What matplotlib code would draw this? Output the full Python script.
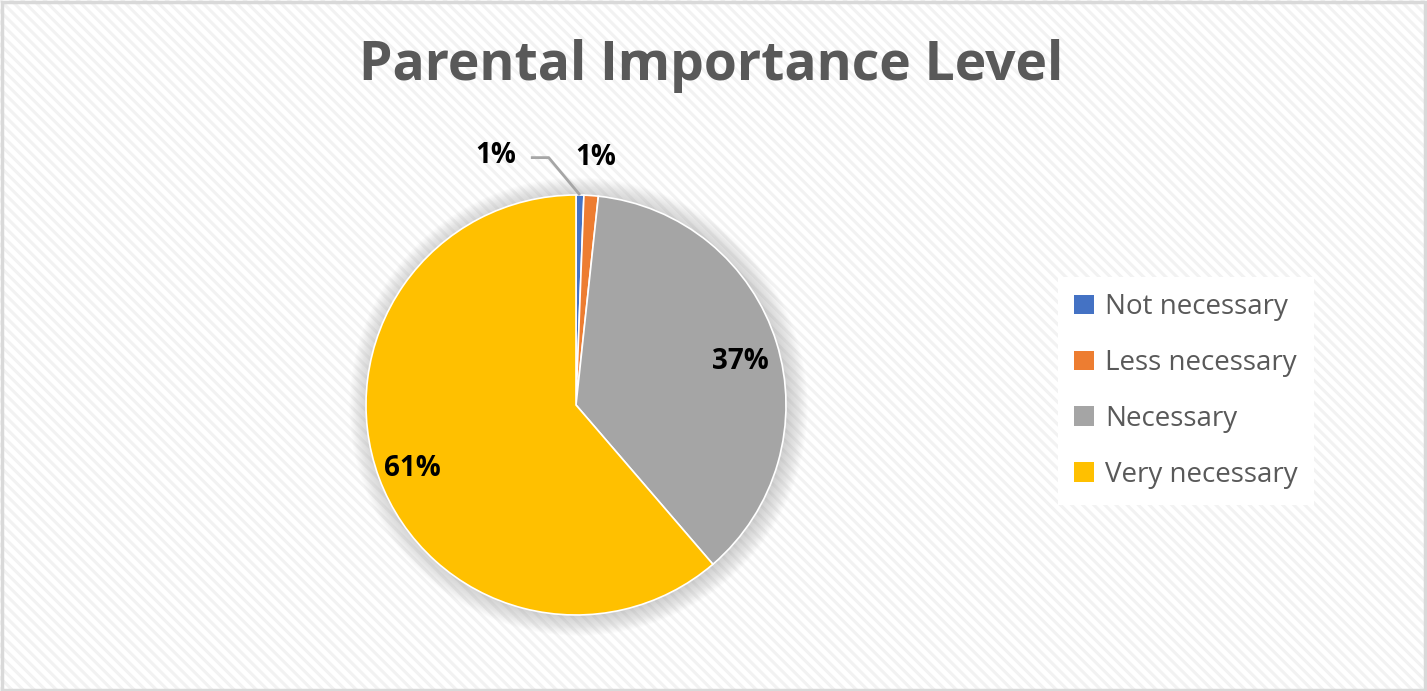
import matplotlib.pyplot as plt
import matplotlib.patches as mpatches
import numpy as np

plt.rcParams['font.family'] = ['Open Sans', 'DejaVu Sans']
plt.rcParams['hatch.linewidth'] = 2.2

# data
categories = ["Not necessary", "Less necessary", "Necessary", "Very necessary"]
shares = [0.6, 1.1, 37.0, 61.3]
colors = ["#4472C4", "#ED7D31", "#A5A5A5", "#FFC000"]

W, H = 1427, 691
fig = plt.figure(figsize=(W / 100, H / 100), dpi=100)
fig.patch.set_facecolor('white')

# striped background + frame
bg = mpatches.Rectangle((0, 0), 1, 1, transform=fig.transFigure, facecolor='white',
                        edgecolor='#f2f2f2', lw=0, hatch='\\\\\\', zorder=-10)
fig.patches.append(bg)
frame = mpatches.Rectangle((0.0015, 0.002), 0.997, 0.995, transform=fig.transFigure,
                           facecolor='none', edgecolor='#d9d9d9', lw=2.5, zorder=-5)
fig.patches.append(frame)

# pie axes: centre (576, 405) px, radius 210 px
R = 210
cx, cy = 576, 405
span = 1.5
ax = fig.add_axes([(cx - span * R) / W, (H - cy - span * R) / H, 2 * span * R / W, 2 * span * R / H])
ax.axis('off')

# soft shadow
for r in np.linspace(1.0, 1.09, 18):
    ax.add_patch(mpatches.Circle((0.012, -0.008), r, facecolor='#7f7f7f', edgecolor='none',
                                 alpha=0.02, zorder=0))

wedges, texts, autotexts = ax.pie(shares, colors=colors, startangle=90, counterclock=False,
                                  radius=1.0, autopct='%.0f%%', pctdistance=0.81,
                                  wedgeprops=dict(edgecolor='white', linewidth=1.2),
                                  textprops=dict(fontsize=20, fontweight='bold', color='black'))
ax.set_xlim(-span, span)
ax.set_ylim(-span, span)
for w in wedges:
    w.set_zorder(2)
for t in autotexts:
    t.set_zorder(5)

# small slices: labels outside
autotexts[0].set_position((-0.38, 1.19))
autotexts[1].set_position((0.095, 1.18))
x37, y37 = autotexts[2].get_position()
autotexts[2].set_position((x37 + 0.01, y37 - 0.035))
x61, y61 = autotexts[3].get_position()
autotexts[3].set_position((x61 - 0.02, y61 - 0.02))
mid = np.deg2rad(90 - 360 * shares[0] / 200)
ax.plot([-0.215, -0.13, np.cos(mid) * 1.0], [1.178, 1.178, np.sin(mid) * 1.0],
        color='#a6a6a6', lw=2, zorder=4, solid_capstyle='butt')

# title
fig.text(711 / W, 1 - 66 / H, "Parental Importance Level", ha='center', va='center',
         fontsize=38.5, fontweight='bold', color='#595959')

# legend
handles = [mpatches.Patch(facecolor=c, edgecolor='none') for c in colors]
leg = fig.legend(handles, categories, loc='center', bbox_to_anchor=(1186 / W, 1 - 391 / H),
                 frameon=True, fontsize=20, labelcolor='#595959', handlelength=0.7,
                 handleheight=0.7, handletextpad=0.4, labelspacing=1.0,
                 borderpad=0.6, fancybox=False)
leg.get_frame().set_facecolor('white')
leg.get_frame().set_edgecolor('none')
leg.get_frame().set_alpha(1)

fig.savefig('out.png', dpi=100)
